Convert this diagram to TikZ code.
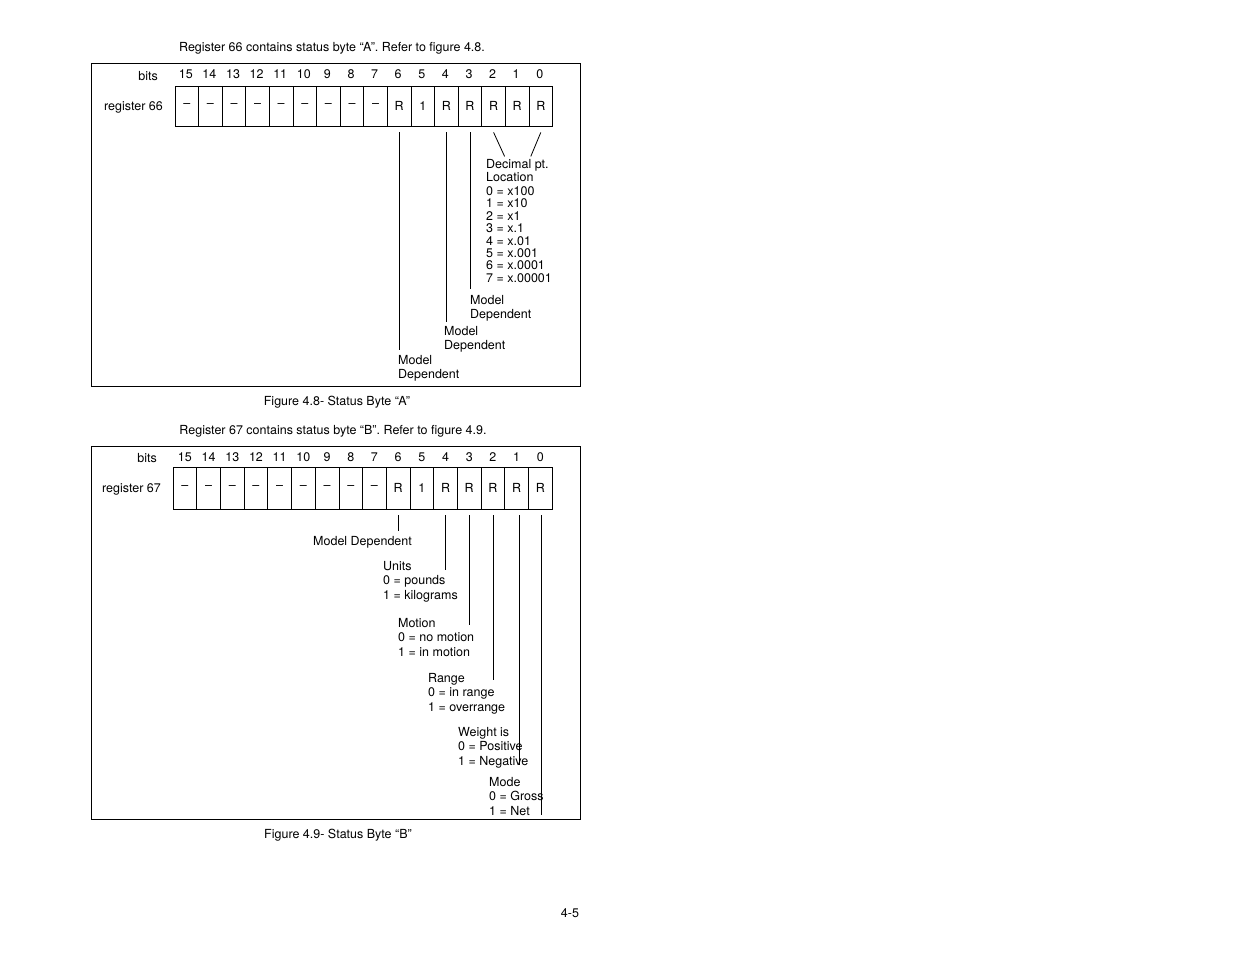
\documentclass[tikz,border=0pt]{standalone}
\usepackage{fontspec}
\setmainfont{TeX Gyre Heros}
\usetikzlibrary{positioning}
\tikzset{cell/.style={draw, thick, minimum width=23.6pt, minimum height=40pt, inner sep=0pt},
         lbl/.style={anchor=north west, inner sep=0pt, align=left, font=\fontsize{12.5}{14.5}\selectfont},
         txt/.style={inner sep=0pt, font=\fontsize{12.5}{14.5}\selectfont},
         lead/.style={thick}}
\begin{document}
\begin{tikzpicture}[x=1pt,y=-1pt]
\useasboundingbox (0,0) rectangle (1235,954);
% frame A
\draw (91,63) rectangle (580,386);
\node[txt] at (332,48) {Register 66 contains status byte “A”. Refer to figure 4.8.};
\node[txt, anchor=east] at (158,76) {bits};
\node[txt, anchor=east] at (163,107) {register 66};
\foreach \b/\v in {15/–,14/–,13/–,12/–,11/–,10/–,9/–,8/–,7/–,6/R,5/1,4/R,3/R,2/R,1/R,0/R} {
  \node[cell] (a\b) at ({175+11.8+(15-\b)*23.6},106) {\fontsize{12.5}{14}\selectfont\v};
  \node[txt] (ab\b) at ({174+11.8+(15-\b)*23.6},74) {\b};
}
\draw[lead] ([yshift=-6]a6.south) -- ++(0,218);
\draw[lead] ([yshift=-6]a4.south) -- ++(0,190);
\draw[lead] ([yshift=-6]a3.south) -- ++(0,157);
\draw[lead] ([yshift=-6]a2.south) -- ++(11,24);
\draw[lead] ([yshift=-6]a0.south) -- ++(-10,24);
\node[lbl, font=\fontsize{12.5}{12.8}\selectfont] (dec) at (486,159) {Decimal pt.\\Location};
\node[lbl, font=\fontsize{12.5}{12.4}\selectfont, below=5pt of dec.south west, anchor=north west] {0 = x100\\1 = x10\\2 = x1\\3 = x.1\\4 = x.01\\5 = x.001\\6 = x.0001\\7 = x.00001};
\node[lbl] at (470,295) {Model\\Dependent};
\node[lbl] at (444,326) {Model\\Dependent};
\node[lbl] at (398,355) {Model\\Dependent};
\node[txt] at (337,402) {Figure 4.8- Status Byte “A”};
% frame B
\node[txt] at (333,431) {Register 67 contains status byte “B”. Refer to figure 4.9.};
\draw (91,446) rectangle (580,819);
\node[txt, anchor=east] at (157,458) {bits};
\node[txt, anchor=east] at (161,489) {register 67};
\foreach \b/\v in {15/–,14/–,13/–,12/–,11/–,10/–,9/–,8/–,7/–,6/R,5/1,4/R,3/R,2/R,1/R,0/R} {
  \node[cell, minimum width=23.7pt, minimum height=42pt] (b\b) at ({173+11.85+(15-\b)*23.7},488) {\fontsize{12.5}{14}\selectfont\v};
  \node[txt] (bb\b) at ({173+11.85+(15-\b)*23.7},457) {\b};
}
\draw[lead] ([yshift=-6]b6.south) -- ++(0,16);
\draw[lead] ([yshift=-6]b4.south) -- ++(0,55);
\draw[lead] ([yshift=-6]b3.south) -- ++(0,110);
\draw[lead] ([yshift=-6]b2.south) -- ++(0,165);
\draw[very thick] ([xshift=3,yshift=-6]b1.south) -- ++(0,250);
\draw[lead] ([xshift=1,yshift=-6]b0.south) -- ++(0,300);
\node[lbl] at (313,536) {Model Dependent};
\node[lbl] at (383,561) {Units\\0 = pounds\\1 = kilograms};
\node[lbl] at (398,618) {Motion\\0 = no motion\\1 = in motion};
\node[lbl] at (428,673) {Range\\0 = in range\\1 = overrange};
\node[lbl] at (458,727) {Weight is\\0 = Positive\\1 = Negative};
\node[lbl] at (489,777) {Mode\\0 = Gross\\1 = Net};
\node[txt] at (338,835) {Figure 4.9- Status Byte “B”};
\node[txt] at (570,913) {4-5};
\end{tikzpicture}
\end{document}
